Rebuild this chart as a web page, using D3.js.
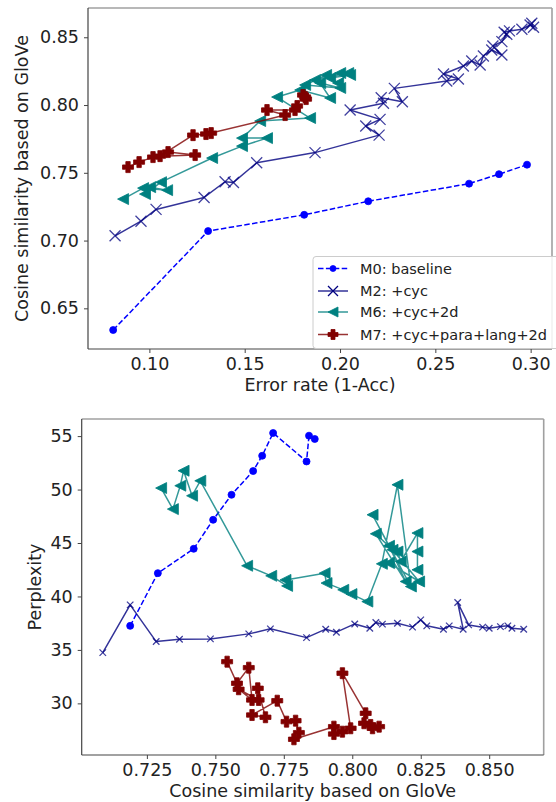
<!DOCTYPE html>
<html><head><meta charset="utf-8">
<script src="https://cdn.jsdelivr.net/npm/d3@7"></script>
<style>
html,body{margin:0;padding:0;background:#fff;}
svg{display:block;font-family:"DejaVu Sans",sans-serif;}
</style></head>
<body>
<svg id="c" width="556" height="802"></svg>
<script>
// ---------- DATA ----------
const seriesNames = ["M0: baseline", "M2: +cyc", "M6: +cyc+2d", "M7: +cyc+para+lang+2d"];

// Top panel: [error rate, cosine similarity]
const topM0 = [[0.0810,0.634],[0.1308,0.707],[0.1812,0.719],[0.2148,0.729],[0.2677,0.742],[0.2834,0.749],[0.2981,0.756]];
const topM2 = [[0.0820,0.7035],[0.0956,0.7143],[0.1035,0.7230],[0.1287,0.7318],[0.1397,0.7434],[0.1441,0.7429],[0.1563,0.7574],[0.1869,0.7649],[0.2205,0.7778],[0.2135,0.7845],[0.2210,0.7894],[0.2053,0.7963],[0.2228,0.8013],[0.2216,0.8054],[0.2327,0.8024],[0.2285,0.8123],[0.2560,0.8177],[0.2621,0.8192],[0.2543,0.8229],[0.2647,0.8288],[0.2691,0.8325],[0.2735,0.8295],[0.2752,0.8362],[0.2796,0.8406],[0.2849,0.8369],[0.2802,0.8436],[0.2849,0.8468],[0.2875,0.8522],[0.2861,0.8537],[0.2889,0.8547],[0.2954,0.8559],[0.2997,0.8591],[0.3015,0.8574],[0.3006,0.8603]];
const topM6 = [[0.0862,0.7306],[0.0967,0.7387],[0.1093,0.7372],[0.1004,0.7394],[0.0977,0.7343],[0.1061,0.7431],[0.1329,0.7609],[0.1486,0.7697],[0.1617,0.7756],[0.1486,0.7756],[0.1581,0.7882],[0.1843,0.7904],[0.1670,0.8059],[0.1791,0.8111],[0.1948,0.8052],[0.1896,0.8162],[0.2001,0.8126],[0.1817,0.8148],[0.1927,0.8222],[0.1990,0.8162],[0.2043,0.8236],[0.1869,0.8185],[0.2001,0.8236],[0.1948,0.8199],[0.2053,0.8222]];
const topM7 = [[0.0888,0.7542],[0.0946,0.7579],[0.1019,0.7616],[0.1098,0.7653],[0.1240,0.7631],[0.1056,0.7623],[0.1229,0.7778],[0.1297,0.7786],[0.1324,0.7793],[0.1712,0.7926],[0.1617,0.7963],[0.1764,0.7963],[0.1775,0.7993],[0.1806,0.8074],[0.1822,0.8044],[0.1817,0.8059]];

// Bottom panel: [cosine similarity, perplexity]
const botM0 = [[0.7189,37.25],[0.7290,42.18],[0.7421,44.46],[0.7492,47.17],[0.7559,49.51],[0.7638,51.73],[0.7671,53.16],[0.7711,55.29],[0.7833,52.63],[0.7842,55.04],[0.7863,54.73]];
const botM2 = [[0.7089,34.75],[0.7189,39.21],[0.7284,35.78],[0.7369,36.00],[0.7482,36.03],[0.7622,36.50],[0.7701,36.97],[0.7833,36.15],[0.7903,36.94],[0.7942,36.66],[0.8009,37.43],[0.8064,37.03],[0.8086,37.56],[0.8110,37.41],[0.8165,37.50],[0.8220,37.13],[0.8250,37.81],[0.8272,37.25],[0.8333,36.94],[0.8354,37.25],[0.8405,36.94],[0.8385,39.43],[0.8425,37.34],[0.8476,37.13],[0.8500,37.03],[0.8541,37.18],[0.8568,37.25],[0.8583,37.03],[0.8626,36.94]];
const botM6 = [[0.7302,50.14],[0.7345,48.17],[0.7372,50.36],[0.7384,51.76],[0.7415,49.42],[0.7445,50.82],[0.7616,42.87],[0.7704,41.93],[0.7762,40.99],[0.7756,41.55],[0.7899,42.18],[0.7906,41.25],[0.7967,40.62],[0.7997,40.22],[0.8055,39.52],[0.8108,43.05],[0.8165,50.45],[0.8214,40.93],[0.8074,47.64],[0.8134,44.74],[0.8195,41.40],[0.8086,45.86],[0.8147,44.36],[0.8244,41.40],[0.8134,43.12],[0.8165,44.20],[0.8177,43.27],[0.8238,45.93],[0.8238,44.20],[0.8238,42.49]];
const botM7 = [[0.7543,33.90],[0.7579,31.88],[0.7622,33.34],[0.7634,30.32],[0.7585,31.32],[0.7658,30.32],[0.7655,31.41],[0.7683,28.70],[0.7634,28.91],[0.7726,30.25],[0.7760,28.29],[0.7793,28.38],[0.7805,27.26],[0.7787,26.64],[0.7933,27.82],[0.7964,27.35],[0.7933,27.13],[0.7994,27.67],[0.7964,32.82],[0.8049,29.07],[0.8043,28.14],[0.8067,27.98],[0.8098,27.82],[0.8074,27.67]];

const topXTicks = [0.10, 0.15, 0.20, 0.25, 0.30];
const topYTicks = [0.65, 0.70, 0.75, 0.80, 0.85];
const botXTicks = [0.725, 0.750, 0.775, 0.800, 0.825, 0.850];
const botYTicks = [30, 35, 40, 45, 50, 55];

const topXLabel = "Error rate (1-Acc)";
const topYLabel = "Cosine similarity based on GloVe";
const botXLabel = "Cosine similarity based on GloVe";
const botYLabel = "Perplexity";

// ---------- STYLE ----------
const colors = ["#0000ff", "#000080", "#008080", "#800000"];
const markers = ["circle", "x", "tri", "plus"];

function markerPath(type, s) {
  const h = s / 2;
  if (type === "circle") {
    return d3.symbol(d3.symbolCircle, Math.PI * h * h)();
  }
  if (type === "x") {
    return `M${-h},${-h}L${h},${h}M${-h},${h}L${h},${-h}`;
  }
  if (type === "tri") {
    return `M${-h},0L${h},${-h}L${h},${h}Z`;
  }
  if (type === "plus") {
    const a = s * 0.2;
    return `M${-a},${-h}H${a}V${-a}H${h}V${a}H${a}V${h}H${-a}V${a}H${-h}V${-a}H${-a}Z`;
  }
}

const svg = d3.select("#c");
svg.append("rect").attr("width", 556).attr("height", 802).attr("fill", "#fff");

function panel(cfg) {
  const {x0, x1, y0, y1, xd, yd, xt, yt, xf, yf, series, msize, xlab, ylab, xlabY, ylabX, id} = cfg;
  const x = d3.scaleLinear().domain(xd).range([x0, x1]);
  const y = d3.scaleLinear().domain(yd).range([y1, y0]);
  const g = svg.append("g");
  g.append("clipPath").attr("id", id).append("rect")
    .attr("x", x0).attr("y", y0).attr("width", x1 - x0).attr("height", y1 - y0);

  const plot = g.append("g").attr("clip-path", `url(#${id})`);
  const line = d3.line().x(d => x(d[0])).y(d => y(d[1]));
  series.forEach((data, i) => {
    const c = colors[i];
    plot.append("path").attr("d", line(data)).attr("fill", "none")
      .attr("stroke", c).attr("stroke-width", 1.5).attr("stroke-opacity", i === 0 ? 1 : 0.8)
      .attr("stroke-dasharray", i === 0 ? "5.5,2.4" : null)
      .attr("stroke-linejoin", "round");
    const mp = markerPath(markers[i], msize[i]);
    plot.selectAll(null).data(data).enter().append("path")
      .attr("transform", d => `translate(${x(d[0])},${y(d[1])})`)
      .attr("d", mp)
      .attr("fill", markers[i] === "x" ? "none" : c)
      .attr("stroke", c)
      .attr("stroke-width", markers[i] === "x" ? 1.3 : 0.8)
      .attr("stroke-opacity", markers[i] === "x" ? 0.75 : 1);
  });

  // spines
  g.append("line").attr("x1", x0).attr("x2", x1).attr("y1", y0).attr("y2", y0).attr("stroke", "#a0a0a0").attr("stroke-width", 1.6);
  g.append("line").attr("x1", x1).attr("x2", x1).attr("y1", y0).attr("y2", y1).attr("stroke", "#a0a0a0").attr("stroke-width", 1.6);

  const ax = g.append("g").attr("transform", `translate(0,${y1})`)
    .call(d3.axisBottom(x).tickValues(xt).tickFormat(d3.format(xf)).tickSize(4).tickPadding(5));
  const ay = g.append("g").attr("transform", `translate(${x0},0)`)
    .call(d3.axisLeft(y).tickValues(yt).tickFormat(d3.format(yf)).tickSize(4).tickPadding(5));
  [ax, ay].forEach(a => {
    a.select(".domain").attr("stroke", "#444").attr("stroke-width", 1.2);
    a.selectAll(".tick line").attr("stroke", "#444").attr("stroke-width", 1);
    a.selectAll("text").attr("font-size", 17.5).attr("fill", "#222").attr("font-family", "DejaVu Sans");
  });
  ax.select(".domain").attr("d", `M${x0},0H${x1}`);
  ay.select(".domain").attr("d", `M0,${y0}V${y1}`);

  g.append("text").attr("x", (x0 + x1) / 2).attr("y", xlabY).attr("text-anchor", "middle")
    .attr("font-size", 17.5).attr("fill", "#222").text(xlab);
  g.append("text").attr("transform", `translate(${ylabX},${(y0 + y1) / 2}) rotate(-90)`)
    .attr("text-anchor", "middle").attr("font-size", 17.5).attr("fill", "#222").text(ylab);
  return {x, y, g};
}

const topP = panel({
  id: "clipTop", x0: 88, x1: 552, y0: 8, y1: 349,
  xd: [0.0678, 0.3112], yd: [0.620, 0.8716],
  xt: topXTicks, yt: topYTicks, xf: ".2f", yf: ".2f",
  series: [topM0, topM2, topM6, topM7], msize: [7, 11, 11, 11],
  xlab: topXLabel, ylab: topYLabel, xlabY: 391, ylabX: 28
});

const botP = panel({
  id: "clipBot", x0: 81.7, x1: 543.7, y0: 419, y1: 755,
  xd: [0.7012, 0.8699], yd: [25.17, 56.6],
  xt: botXTicks, yt: botYTicks, xf: ".3f", yf: "d",
  series: [botM0, botM2, botM6, botM7], msize: [7, 6.5, 11, 11],
  xlab: botXLabel, ylab: botYLabel, xlabY: 797, ylabX: 41
});

// ---------- LEGEND ----------
const lg = svg.append("g");
lg.append("rect").attr("x", 313).attr("y", 256.5).attr("width", 260).attr("height", 92)
  .attr("rx", 3).attr("fill", "#fff").attr("fill-opacity", 0.85).attr("stroke", "#cccccc").attr("stroke-width", 1);
const rowY = [268.5, 291, 312, 334.5];
seriesNames.forEach((name, i) => {
  const yy = rowY[i], c = colors[i];
  lg.append("line").attr("x1", 318).attr("x2", 348).attr("y1", yy).attr("y2", yy)
    .attr("stroke", c).attr("stroke-width", 1.5).attr("stroke-opacity", i === 0 ? 1 : 0.8)
    .attr("stroke-dasharray", i === 0 ? "5.5,2.4" : null);
  lg.append("path").attr("transform", `translate(333,${yy})`)
    .attr("d", markerPath(markers[i], i === 0 ? 6 : 10))
    .attr("fill", markers[i] === "x" ? "none" : c).attr("stroke", c)
    .attr("stroke-width", markers[i] === "x" ? 1.3 : 0.8);
  lg.append("text").attr("x", 360).attr("y", yy).attr("dy", "0.36em")
    .attr("font-size", 14.5).attr("fill", "#222").text(name);
});
</script>
</body></html>
